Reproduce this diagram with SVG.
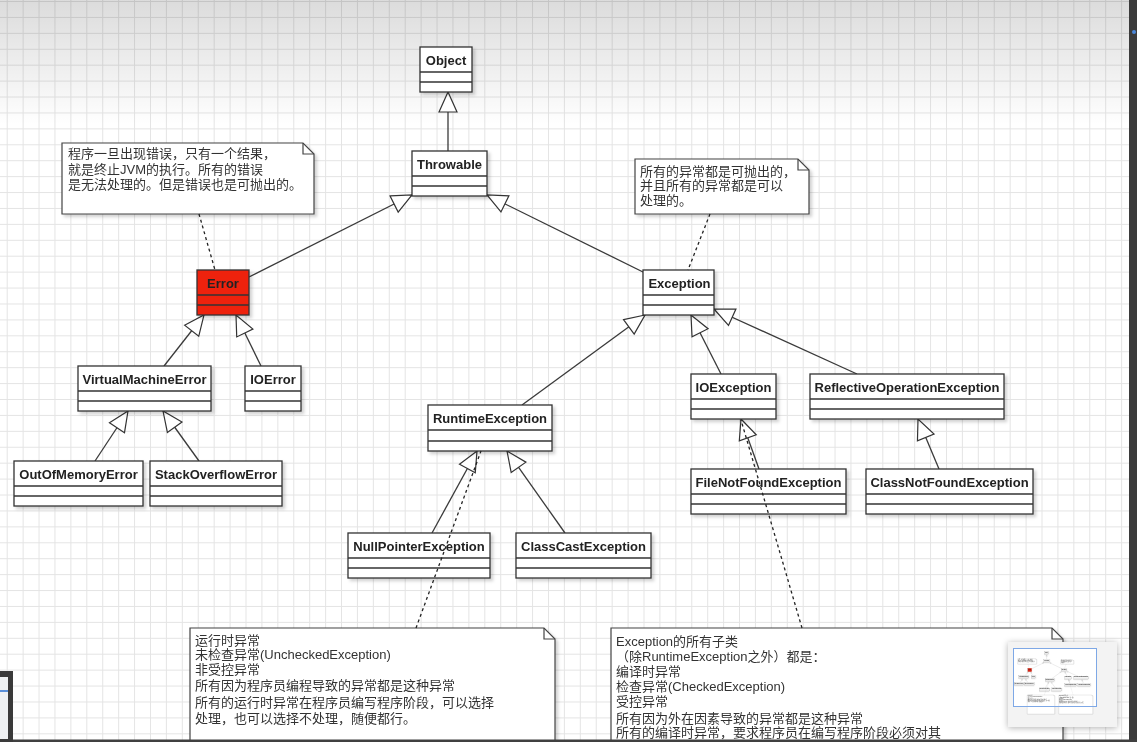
<svg xmlns="http://www.w3.org/2000/svg" xmlns:xlink="http://www.w3.org/1999/xlink" width="1137" height="742" viewBox="0 0 1137 742">
<defs>
<style>
.cls rect{fill:#fff;stroke:#333;stroke-width:1.3}
.cls line{stroke:#333;stroke-width:1.3}
.cls text{font-family:"Liberation Sans",Arial,sans-serif;font-weight:bold;font-size:13px;fill:#222;text-anchor:middle}
.note path{fill:#fff;stroke:#444;stroke-width:1.2}
.note path.fold{fill:none}
.note text{font-family:"Liberation Sans","Noto Sans CJK SC",sans-serif;font-size:13px;fill:#333}
.gen{fill:none;stroke:#3a3a3a;stroke-width:1.3;marker-end:url(#tri)}
.dash{fill:none;stroke:#222;stroke-width:1.3;stroke-dasharray:3 3}
</style>
<pattern id="grid" patternUnits="userSpaceOnUse" x="6.7" y="1" width="15.92" height="15.92">
<path d="M0 0.5H15.92M0.5 0V15.92" stroke="#e4e4e4" stroke-width="1" fill="none"/>
</pattern>
<linearGradient id="topfade" x1="0" y1="0" x2="0" y2="1">
<stop offset="0" stop-color="#000" stop-opacity="0.14"/>
<stop offset="1" stop-color="#000" stop-opacity="0"/>
</linearGradient>
<filter id="sh" x="-10%" y="-10%" width="130%" height="140%">
<feDropShadow dx="2.5" dy="2.5" stdDeviation="1.5" flood-color="#000" flood-opacity="0.18"/>
</filter>
<filter id="sh2" x="-20%" y="-20%" width="140%" height="140%">
<feDropShadow dx="0" dy="1" stdDeviation="3" flood-color="#000" flood-opacity="0.3"/>
</filter>
<marker id="tri" markerUnits="userSpaceOnUse" markerWidth="22" markerHeight="20" refX="20" refY="9" orient="auto" overflow="visible">
<path d="M0,0 L20,9 L0,18 Z" fill="#fff" stroke="#333" stroke-width="1.2"/>
</marker>
</defs>

<rect x="0" y="0" width="1137" height="742" fill="#fff"/>
<rect x="0" y="0" width="1137" height="742" fill="url(#grid)"/>
<rect x="0" y="0" width="1137" height="125" fill="url(#topfade)"/>

<g id="diagram">
<g id="connectors">
<line class="gen" x1="448" y1="151" x2="448" y2="92"/>
<line class="gen" x1="249" y1="277" x2="412" y2="195"/>
<line class="gen" x1="643" y1="272" x2="487" y2="195"/>
<line class="gen" x1="164" y1="366" x2="204" y2="315"/>
<line class="gen" x1="261" y1="366" x2="236" y2="315"/>
<line class="gen" x1="95" y1="461" x2="128" y2="411"/>
<line class="gen" x1="199" y1="461" x2="163" y2="411"/>
<line class="gen" x1="522" y1="405" x2="645" y2="315"/>
<line class="gen" x1="721" y1="374" x2="691" y2="315"/>
<line class="gen" x1="857" y1="374" x2="714" y2="309"/>
<line class="gen" x1="432" y1="533" x2="477" y2="451"/>
<line class="gen" x1="565" y1="533" x2="507" y2="451"/>
<line class="gen" x1="759" y1="469" x2="741" y2="419"/>
<line class="gen" x1="939" y1="469" x2="918" y2="419"/>
</g>

<g id="n-object" class="cls" filter="url(#sh)"><rect x="420" y="47" width="52" height="45"/><line x1="420" y1="72" x2="472" y2="72"/><line x1="420" y1="82" x2="472" y2="82"/><text x="446" y="64.7">Object</text></g>
<g id="n-throwable" class="cls" filter="url(#sh)"><rect x="412" y="151" width="75" height="45"/><line x1="412" y1="176" x2="487" y2="176"/><line x1="412" y1="186" x2="487" y2="186"/><text x="449.5" y="168.7">Throwable</text></g>
<g id="n-error" class="cls" filter="url(#sh)"><rect x="197" y="270" width="52" height="45" style="fill:#ee2211"/><line x1="197" y1="295" x2="249" y2="295"/><line x1="197" y1="305" x2="249" y2="305"/><text x="223" y="287.7">Error</text></g>
<g id="n-exception" class="cls" filter="url(#sh)"><rect x="643" y="270" width="71" height="45"/><line x1="643" y1="295" x2="714" y2="295"/><line x1="643" y1="305" x2="714" y2="305"/><text x="679.5" y="287.7">Exception</text></g>
<g id="n-vme" class="cls" filter="url(#sh)"><rect x="78" y="366" width="133" height="45"/><line x1="78" y1="391" x2="211" y2="391"/><line x1="78" y1="401" x2="211" y2="401"/><text x="144.5" y="383.7">VirtualMachineError</text></g>
<g id="n-ioerror" class="cls" filter="url(#sh)"><rect x="245" y="366" width="56" height="45"/><line x1="245" y1="391" x2="301" y2="391"/><line x1="245" y1="401" x2="301" y2="401"/><text x="273" y="383.7">IOError</text></g>
<g id="n-runtime" class="cls" filter="url(#sh)"><rect x="428" y="405" width="124" height="46"/><line x1="428" y1="430" x2="552" y2="430"/><line x1="428" y1="441" x2="552" y2="441"/><text x="490" y="422.7">RuntimeException</text></g>
<g id="n-ioexception" class="cls" filter="url(#sh)"><rect x="691" y="374" width="85" height="45"/><line x1="691" y1="399" x2="776" y2="399"/><line x1="691" y1="409" x2="776" y2="409"/><text x="733.5" y="391.7">IOException</text></g>
<g id="n-reflective" class="cls" filter="url(#sh)"><rect x="810" y="374" width="194" height="45"/><line x1="810" y1="399" x2="1004" y2="399"/><line x1="810" y1="409" x2="1004" y2="409"/><text x="907" y="391.7">ReflectiveOperationException</text></g>
<g id="n-oom" class="cls" filter="url(#sh)"><rect x="14" y="461" width="129" height="45"/><line x1="14" y1="486" x2="143" y2="486"/><line x1="14" y1="496" x2="143" y2="496"/><text x="78.5" y="478.7">OutOfMemoryError</text></g>
<g id="n-stackoverflow" class="cls" filter="url(#sh)"><rect x="150" y="461" width="132" height="45"/><line x1="150" y1="486" x2="282" y2="486"/><line x1="150" y1="496" x2="282" y2="496"/><text x="216" y="478.7">StackOverflowError</text></g>
<g id="n-filenotfound" class="cls" filter="url(#sh)"><rect x="691" y="469" width="155" height="45"/><line x1="691" y1="494" x2="846" y2="494"/><line x1="691" y1="504" x2="846" y2="504"/><text x="768.5" y="486.7">FileNotFoundException</text></g>
<g id="n-classnotfound" class="cls" filter="url(#sh)"><rect x="866" y="469" width="167" height="45"/><line x1="866" y1="494" x2="1033" y2="494"/><line x1="866" y1="504" x2="1033" y2="504"/><text x="949.5" y="486.7">ClassNotFoundException</text></g>
<g id="n-nullpointer" class="cls" filter="url(#sh)"><rect x="348" y="533" width="142" height="45"/><line x1="348" y1="558" x2="490" y2="558"/><line x1="348" y1="568" x2="490" y2="568"/><text x="419" y="550.7">NullPointerException</text></g>
<g id="n-classcast" class="cls" filter="url(#sh)"><rect x="516" y="533" width="135" height="45"/><line x1="516" y1="558" x2="651" y2="558"/><line x1="516" y1="568" x2="651" y2="568"/><text x="583.5" y="550.7">ClassCastException</text></g>

<g id="note-error" class="note" filter="url(#sh)">
<path d="M62,143 H303 L314,154 V214 H62 Z"/><path class="fold" d="M303,143 V154 H314"/>
<text x="68" y="157.8">程序一旦出现错误，只有一个结果，</text>
<text x="68" y="173.7">就是终止JVM的执行。所有的错误</text>
<text x="68" y="188.7">是无法处理的。但是错误也是可抛出的。</text>
</g>
<g id="note-exception" class="note" filter="url(#sh)">
<path d="M635,159 H798 L809,170 V214 H635 Z"/><path class="fold" d="M798,159 V170 H809"/>
<text x="640" y="175.7">所有的异常都是可抛出的，</text>
<text x="640" y="189.8">并且所有的异常都是可以</text>
<text x="640" y="204.7">处理的。</text>
</g>
<g id="note-runtime" class="note" filter="url(#sh)">
<path d="M190,628 H544 L555,639 V880 H190 Z"/><path class="fold" d="M544,628 V639 H555"/>
<text x="195" y="644.7">运行时异常</text>
<text x="195" y="659.4">未检查异常(UncheckedException)</text>
<text x="195" y="673.7">非受控异常</text>
<text x="195" y="690">所有因为程序员编程导致的异常都是这种异常</text>
<text x="195" y="707.4">所有的运行时异常在程序员编写程序阶段，可以选择</text>
<text x="195" y="723.4">处理，也可以选择不处理，随便都行。</text>
</g>
<g id="note-checked" class="note" filter="url(#sh)">
<path d="M611,628 H1052 L1063,639 V880 H611 Z"/><path class="fold" d="M1052,628 V639 H1063"/>
<text x="616" y="645.7">Exception的所有子类</text>
<text x="616" y="660.7">（除RuntimeException之外）都是：</text>
<text x="616" y="676">编译时异常</text>
<text x="616" y="691.3">检查异常(CheckedException)</text>
<text x="616" y="706.4">受控异常</text>
<text x="616" y="722.5">所有因为外在因素导致的异常都是这种异常</text>
<text x="616" y="737">所有的编译时异常，要求程序员在编写程序阶段必须对其</text>
</g>

<g id="note-links">
<line class="dash" x1="199" y1="214" x2="215" y2="270"/>
<line class="dash" x1="710" y1="214" x2="688" y2="270"/>
<line class="dash" x1="416" y1="628" x2="481" y2="451"/>
<line class="dash" x1="802" y1="628" x2="741" y2="420"/>
</g>
</g>

<g id="minimap">
<rect x="1008" y="642" width="109" height="85" fill="#f3f3f3" filter="url(#sh2)"/>
<rect x="1013" y="648" width="83" height="58" fill="#fff"/>
<use xlink:href="#diagram" href="#diagram" transform="translate(1013,648) scale(0.075)"/>
<rect x="1013.5" y="648.5" width="83" height="58" fill="none" stroke="#7ea8e6" stroke-width="1"/>
</g>

<g id="frame">
<rect x="1129" y="0" width="8" height="742" fill="#3b3b3b"/>
<circle cx="1134" cy="32" r="2" fill="#4a86d8"/>
<rect x="0" y="739.5" width="1137" height="2.5" fill="#404040"/>
<rect x="0" y="671" width="13" height="71" fill="#3a3a3a"/>
<rect x="0" y="677" width="8" height="62" fill="#eef0f2"/>
<rect x="0" y="690" width="8" height="2" fill="#5a8fd8"/>
</g>
</svg>
